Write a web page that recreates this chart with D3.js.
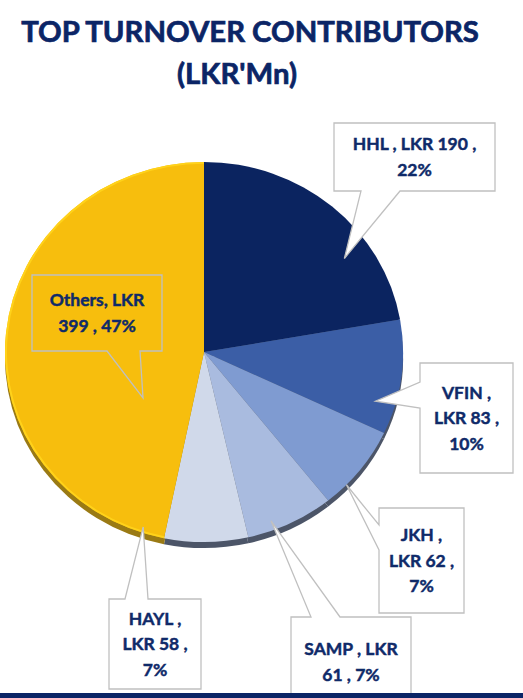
<!DOCTYPE html>
<html>
<head>
<meta charset="utf-8">
<script src="https://cdn.jsdelivr.net/npm/d3@7"></script>
<style>
  html, body { margin: 0; padding: 0; background: #fff; }
  svg { display: block; }
</style>
</head>
<body>
<svg id="chart" width="523" height="698"></svg>
<script>
// Top turnover contributors, LKR'Mn (clockwise from 12 o'clock)
const names = ["HHL", "VFIN", "JKH", "SAMP", "HAYL", "Others"];
const values = [190, 83, 62, 61, 58, 399];
const colors = ["#0b2460", "#3b5ea6", "#7f9bd1", "#a9bbdf", "#d0d9ea", "#f7be0d"];

// callout layout: box [x, y, w, h], tip angle offset (deg) + radius fraction, pointer base on box side
const callouts = [
  { box: [334, 123, 161, 68], tipOff: 15, tipR: 0.86, side: "bottom", base: [27, 66] },
  { box: [420, 363, 93, 110], tipOff: 9, tipR: 0.90, side: "left", base: [19, 45] },
  { box: [379, 508, 85, 105], tipOff: 6, tipR: 1.0, side: "left", base: [17, 42] },
  { box: [291, 617, 120, 90], tipOff: 5, tipR: 0.95, side: "top", base: [20, 49] },
  { box: [109, 599, 92, 90], tipOff: 19, tipR: 0.97, side: "top", base: [16, 39] },
  { box: [32, 275, 130, 76], tipOff: -44, tipR: 0.39, side: "bottom", base: [75, 108], clear: true }
];

const navy = "#0f2a69";
const svg = d3.select("#chart");
const cx = 204, cy = 352, R = 199, squash = 0.955, rim = 6;
const total = d3.sum(values);

const data = names.map((n, i) => ({ name: n, value: values[i], color: colors[i], i }));

// title
const title = svg.append("g")
  .attr("fill", "#0b2566")
  .attr("stroke", "#0b2566")
  .attr("stroke-width", 0.7)
  .attr("font-family", "Lato, 'Open Sans', sans-serif")
  .attr("font-weight", 700)
  .attr("font-size", 29.3)
  .attr("text-anchor", "middle");
title.append("text").attr("x", 250).attr("y", 42).text("TOP TURNOVER CONTRIBUTORS");
title.append("text").attr("x", 237).attr("y", 84).text("(LKR'Mn)");

const pie = d3.pie().value(d => d.value).sort(null);
const arcs = pie(data);
const arc = d3.arc().innerRadius(0).outerRadius(R);

// rim (pie thickness) drawn first, shifted down
svg.append("g")
  .attr("transform", `translate(${cx},${cy + rim}) scale(1,${squash})`)
  .selectAll("path")
  .data(arcs)
  .join("path")
  .attr("d", arc)
  .attr("fill", d => d.data.i === 5 ? "#9a7a14" : "#4c5568");

// face
const face = svg.append("g")
  .attr("transform", `translate(${cx},${cy}) scale(1,${squash})`);
face.selectAll("path")
  .data(arcs)
  .join("path")
  .attr("d", arc)
  .attr("fill", d => d.data.color);

// subtle edge highlight on yellow
face.append("path")
  .attr("d", d3.arc().innerRadius(R - 2).outerRadius(R)(arcs[5]))
  .attr("fill", "#ffd21a");

// callouts
const lab = svg.append("g")
  .attr("font-family", "Lato, 'Open Sans', sans-serif")
  .attr("font-weight", 700)
  .attr("font-size", 17.5)
  .attr("fill", navy);

arcs.forEach((a, k) => {
  const c = callouts[k];
  const [bx, by, bw, bh] = c.box;
  const ang = (a.startAngle + a.endAngle) / 2 + c.tipOff * Math.PI / 180;
  const tx = cx + Math.sin(ang) * R * c.tipR;
  const ty = cy - Math.cos(ang) * R * c.tipR * squash;

  let pts;
  if (c.side === "bottom") {
    pts = [[bx, by], [bx + bw, by], [bx + bw, by + bh], [bx + c.base[1], by + bh], [tx, ty], [bx + c.base[0], by + bh], [bx, by + bh]];
  } else if (c.side === "top") {
    pts = [[bx, by], [bx + c.base[0], by], [tx, ty], [bx + c.base[1], by], [bx + bw, by], [bx + bw, by + bh], [bx, by + bh]];
  } else {
    pts = [[bx, by], [bx + bw, by], [bx + bw, by + bh], [bx, by + bh], [bx, by + c.base[1]], [tx, ty], [bx, by + c.base[0]]];
  }
  lab.append("path")
    .attr("d", d3.line()(pts) + "Z")
    .attr("fill", c.clear ? "none" : "#fff")
    .attr("stroke", "#c0c0c0")
    .attr("stroke-width", 1.3);

  const pct = Math.round(a.data.value / total * 100);
  const sep = a.data.name === "Others" ? ", " : " , ";
  const words = `${a.data.name}${sep}LKR ${a.data.value} , ${pct}%`.split(" ");

  // wrap words to box width
  const t = lab.append("text")
    .attr("text-anchor", "middle")
    .attr("stroke", navy)
    .attr("stroke-width", 0.45);
  const maxW = bw - 10;
  const lines = [];
  let cur = [];
  words.forEach(w => {
    const test = cur.concat(w).join(" ");
    t.text(test);
    if (t.node().getComputedTextLength() > maxW && cur.length) {
      lines.push(cur.join(" "));
      cur = [w];
    } else cur.push(w);
  });
  lines.push(cur.join(" "));
  t.text(null);
  const lh = 25.5;
  const y0 = by + bh / 2 - (lines.length - 1) * lh / 2 + 6;
  lines.forEach((l, j) => {
    t.append("tspan").attr("x", bx + bw / 2).attr("y", y0 + j * lh).text(l);
  });
});

// bottom rule
svg.append("rect").attr("x", 0).attr("y", 693).attr("width", 523).attr("height", 5).attr("fill", "#0b2566");
</script>
</body>
</html>
